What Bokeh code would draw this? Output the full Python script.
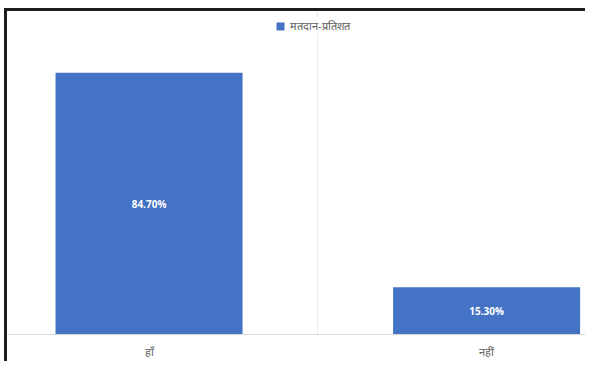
from bokeh.plotting import figure
from bokeh.layouts import column
from bokeh.models import ColumnDataSource, LabelSet, FixedTicker, Legend, LegendItem
from bokeh.core.properties import value
from bokeh.embed import file_html
from bokeh.resources import INLINE

categories = ["हाँ", "नहीं"]
values = [84.70, 15.30]
series_name = "मतदान-प्रतिशत"

xs = list(range(len(categories)))
src = ColumnDataSource(dict(
    x=xs,
    top=values,
    mid=[v / 2 for v in values],
    label=[f"{v:.2f}%" for v in values],
))

p = figure(width=578, height=350, output_backend="svg", toolbar_location=None,
           x_range=(-0.4193, 1.293), y_range=(0, 104.5),
           min_border_left=0, min_border_right=0, min_border_top=0, min_border_bottom=18)
p.outline_line_color = None
p.background_fill_color = "white"
p.border_fill_color = "white"

r = p.vbar(x="x", top="top", width=0.554, bottom=0, source=src,
           fill_color="#4472C4", line_color=None)

labels = LabelSet(x="x", y="mid", text="label", source=src, text_align="center",
                  text_baseline="middle", text_color="white", text_font_size="10px",
                  text_font_style="bold", text_font=value("Open Sans"))
p.add_layout(labels)

p.yaxis.visible = False
p.ygrid.visible = False
p.xaxis.ticker = FixedTicker(ticks=xs)
p.xaxis.major_label_overrides = {i: c for i, c in enumerate(categories)}
p.xaxis.major_tick_line_color = None
p.xaxis.minor_tick_line_color = None
p.xaxis.axis_line_color = "#d9d9d9"
p.xaxis.major_label_text_color = "#595959"
p.xaxis.major_label_text_font = "Open Sans"
p.xaxis.major_label_text_font_size = "11px"
p.xaxis.major_label_standoff = 3
p.xgrid.ticker = FixedTicker(ticks=[0.5])
p.xgrid.grid_line_color = "#ececec"

legend = Legend(items=[LegendItem(label=series_name, renderers=[r])],
                location=(268, 301), orientation="horizontal",
                border_line_color=None, background_fill_alpha=1, background_fill_color="white",
                label_text_font_size="11px", label_text_color="#595959",
                label_text_font="Open Sans",
                glyph_width=10, glyph_height=10, padding=4, margin=0)
p.add_layout(legend)

layout = column(p, styles={"border-top": "3px solid #1e1e1e",
                           "border-left": "3px solid #1e1e1e",
                           "margin-left": "4px", "margin-top": "8px"})

open("out.html", "w").write(file_html(layout, INLINE))
